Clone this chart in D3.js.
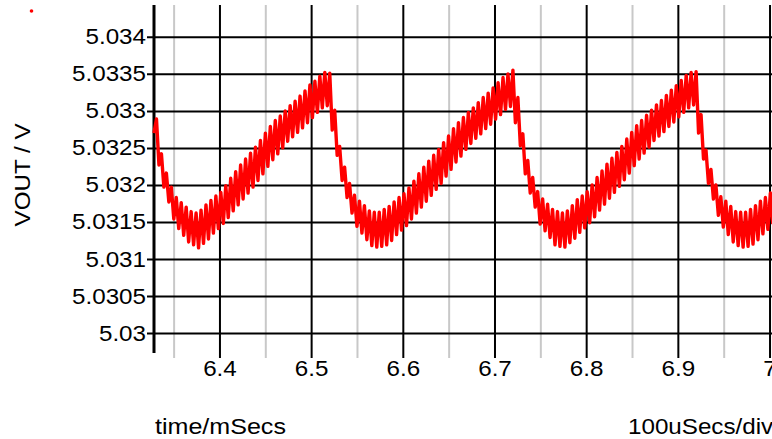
<!DOCTYPE html>
<html>
<head>
    <meta charset="utf-8" />
    <title>VOUT</title>
    <script src="https://cdnjs.cloudflare.com/ajax/libs/d3/7.8.5/d3.min.js"></script>
    <style>
        body { margin: 0; background: #fff; }
        svg { display: block; }
        .chart text {
            font-family: "Liberation Sans", Arial, sans-serif;
            font-size: 22px;
            fill: #000;
        }
    </style>
</head>
<body>
    <svg class="chart" width="772" height="439"></svg>

    <script>
    // axis ticks
    var yTickValues = [5.03, 5.0305, 5.031, 5.0315, 5.032, 5.0325, 5.033, 5.0335, 5.034];
    var yTickLabels = ["5.03", "5.0305", "5.031", "5.0315", "5.032", "5.0325", "5.033", "5.0335", "5.034"];
    var xMajorTicks = [6.4, 6.5, 6.6, 6.7, 6.8, 6.9, 7.0];
    var xTickLabels = ["6.4", "6.5", "6.6", "6.7", "6.8", "6.9", "7"];
    var xMinorTicks = [6.35, 6.45, 6.55, 6.65, 6.75, 6.85, 6.95];

    // VOUT samples, ms / V : ripple bottoms and tops
    var tFirst = 6.3286, tStep = 0.0054;
    var vLow = [
        5.03270, 5.03227, 5.03197, 5.03177, 5.03154, 5.03141, 5.03132, 5.03123, 5.03119, 5.03115,
        5.03121, 5.03127, 5.03135, 5.03141, 5.03148, 5.03156, 5.03165, 5.03173, 5.03181, 5.03189,
        5.03197, 5.03206, 5.03215, 5.03225, 5.03234, 5.03242, 5.03250, 5.03259, 5.03265, 5.03271,
        5.03277, 5.03284, 5.03291, 5.03298, 5.03304, 5.03307, 5.03274, 5.03240, 5.03206, 5.03183,
        5.03162, 5.03144, 5.03135, 5.03126, 5.03118, 5.03116, 5.03117, 5.03119, 5.03125, 5.03133,
        5.03139, 5.03145, 5.03154, 5.03162, 5.03170, 5.03178, 5.03186, 5.03194, 5.03202, 5.03212,
        5.03221, 5.03231, 5.03239, 5.03248, 5.03256, 5.03263, 5.03269, 5.03276, 5.03282, 5.03289,
        5.03295, 5.03302, 5.03306, 5.03284, 5.03253, 5.03215, 5.03189, 5.03170, 5.03147, 5.03138,
        5.03129, 5.03119, 5.03117, 5.03116, 5.03122, 5.03128, 5.03136, 5.03142, 5.03149, 5.03157,
        5.03166, 5.03174, 5.03182, 5.03190, 5.03198, 5.03207, 5.03216, 5.03226, 5.03235, 5.03243,
        5.03251, 5.03260, 5.03266, 5.03272, 5.03279, 5.03285, 5.03292, 5.03298, 5.03304, 5.03308,
        5.03270, 5.03235, 5.03202, 5.03181, 5.03159, 5.03143, 5.03133, 5.03123, 5.03118, 5.03116,
        5.03117, 5.03120, 5.03126, 5.03134, 5.03140, 5.03147
    ];
    var vHigh = [
        5.03289, 5.03242, 5.03216, 5.03197, 5.03183, 5.03176, 5.03170, 5.03164, 5.03162, 5.03166,
        5.03173, 5.03179, 5.03185, 5.03190, 5.03199, 5.03209, 5.03218, 5.03227, 5.03235, 5.03243,
        5.03251, 5.03260, 5.03270, 5.03279, 5.03287, 5.03293, 5.03300, 5.03307, 5.03313, 5.03320,
        5.03327, 5.03335, 5.03340, 5.03347, 5.03352, 5.03351, 5.03301, 5.03252, 5.03224, 5.03202,
        5.03186, 5.03178, 5.03172, 5.03165, 5.03163, 5.03163, 5.03167, 5.03171, 5.03177, 5.03183,
        5.03188, 5.03196, 5.03205, 5.03215, 5.03224, 5.03232, 5.03240, 5.03248, 5.03257, 5.03266,
        5.03276, 5.03284, 5.03291, 5.03298, 5.03304, 5.03311, 5.03318, 5.03324, 5.03331, 5.03338,
        5.03345, 5.03350, 5.03355, 5.03318, 5.03269, 5.03233, 5.03210, 5.03191, 5.03181, 5.03174,
        5.03167, 5.03164, 5.03162, 5.03165, 5.03172, 5.03180, 5.03185, 5.03191, 5.03200, 5.03210,
        5.03219, 5.03228, 5.03236, 5.03244, 5.03252, 5.03262, 5.03271, 5.03280, 5.03287, 5.03294,
        5.03301, 5.03308, 5.03314, 5.03321, 5.03328, 5.03334, 5.03341, 5.03348, 5.03352, 5.03353,
        5.03295, 5.03247, 5.03221, 5.03200, 5.03184, 5.03178, 5.03171, 5.03164, 5.03163, 5.03163,
        5.03167, 5.03172, 5.03178, 5.03183, 5.03189
    ];

    var plotLeft = 154, plotRight = 772, plotTop = 5, plotBottom = 353;
    var stretch = 1.1; // the plotter's font is drawn a bit wide

    var svg = d3.select(".chart");
    var x = d3.scaleLinear().domain([6.3286, 7.0027]).range([plotLeft, plotRight]);
    var y = d3.scaleLinear().domain([5.02973, 5.03443]).range([plotBottom, plotTop]);

    // minor (grey) verticals
    var gMinor = svg.append("g")
        .attr("transform", "translate(0," + plotBottom + ")")
        .call(d3.axisBottom(x).tickValues(xMinorTicks).tickSize(5).tickFormat(""));
    gMinor.select(".domain").remove();
    gMinor.selectAll(".tick line")
        .attr("y1", plotTop - plotBottom)
        .attr("stroke", "#c8c8c8")
        .attr("stroke-width", 2);

    // horizontals + y labels
    var gY = svg.append("g")
        .attr("transform", "translate(" + plotLeft + ",0)")
        .call(d3.axisLeft(y).tickValues(yTickValues)
            .tickFormat(function (d, i) { return yTickLabels[i]; })
            .tickSize(7).tickPadding(1));
    gY.select(".domain").remove();
    gY.selectAll(".tick line")
        .attr("x1", plotRight - plotLeft)
        .attr("stroke", "#000")
        .attr("stroke-width", 2);
    gY.selectAll(".tick text")
        .attr("x", -8 / stretch)
        .attr("transform", "scale(" + stretch + ",1)");

    // major verticals + x labels
    var gX = svg.append("g")
        .attr("transform", "translate(0," + plotBottom + ")")
        .call(d3.axisBottom(x).tickValues(xMajorTicks)
            .tickFormat(function (d, i) { return xTickLabels[i]; })
            .tickSize(5).tickPadding(2));
    gX.select(".domain").remove();
    gX.selectAll(".tick line")
        .attr("y1", plotTop - plotBottom)
        .attr("stroke", "#000")
        .attr("stroke-width", 2);
    gX.selectAll(".tick text")
        .attr("transform", "scale(" + stretch + ",1)");

    // y axis spine
    svg.append("line")
        .attr("x1", x.range()[0]).attr("x2", x.range()[0])
        .attr("y1", y.range()[1]).attr("y2", y.range()[0])
        .attr("stroke", "#000")
        .attr("stroke-width", 3);

    // trace
    var points = [];
    vLow.forEach(function (v, i) {
        points.push([tFirst + i * tStep, v]);
        if (i < vHigh.length) points.push([tFirst + (i + 0.5) * tStep, vHigh[i]]);
    });
    var line = d3.line()
        .x(function (d) { return x(d[0]); })
        .y(function (d) { return y(d[1]); });
    svg.append("path")
        .datum(points)
        .attr("d", line)
        .attr("fill", "none")
        .attr("stroke", "#ff0000")
        .attr("stroke-width", 3.4)
        .attr("stroke-linejoin", "round");

    // legend marker
    svg.append("circle")
        .attr("cx", 31.5).attr("cy", 11).attr("r", 1.8)
        .attr("fill", "#ff0000");

    // titles
    svg.append("text")
        .attr("transform", "translate(30,175) rotate(-90) scale(" + stretch + ",1)")
        .attr("text-anchor", "middle")
        .text("VOUT / V");
    svg.append("text")
        .attr("x", 155 / 1.14).attr("y", 434)
        .attr("transform", "scale(1.14,1)")
        .text("time/mSecs");
    svg.append("text")
        .attr("x", 628 / stretch).attr("y", 434)
        .attr("transform", "scale(" + stretch + ",1)")
        .text("100uSecs/div");
    </script>
</body>
</html>
